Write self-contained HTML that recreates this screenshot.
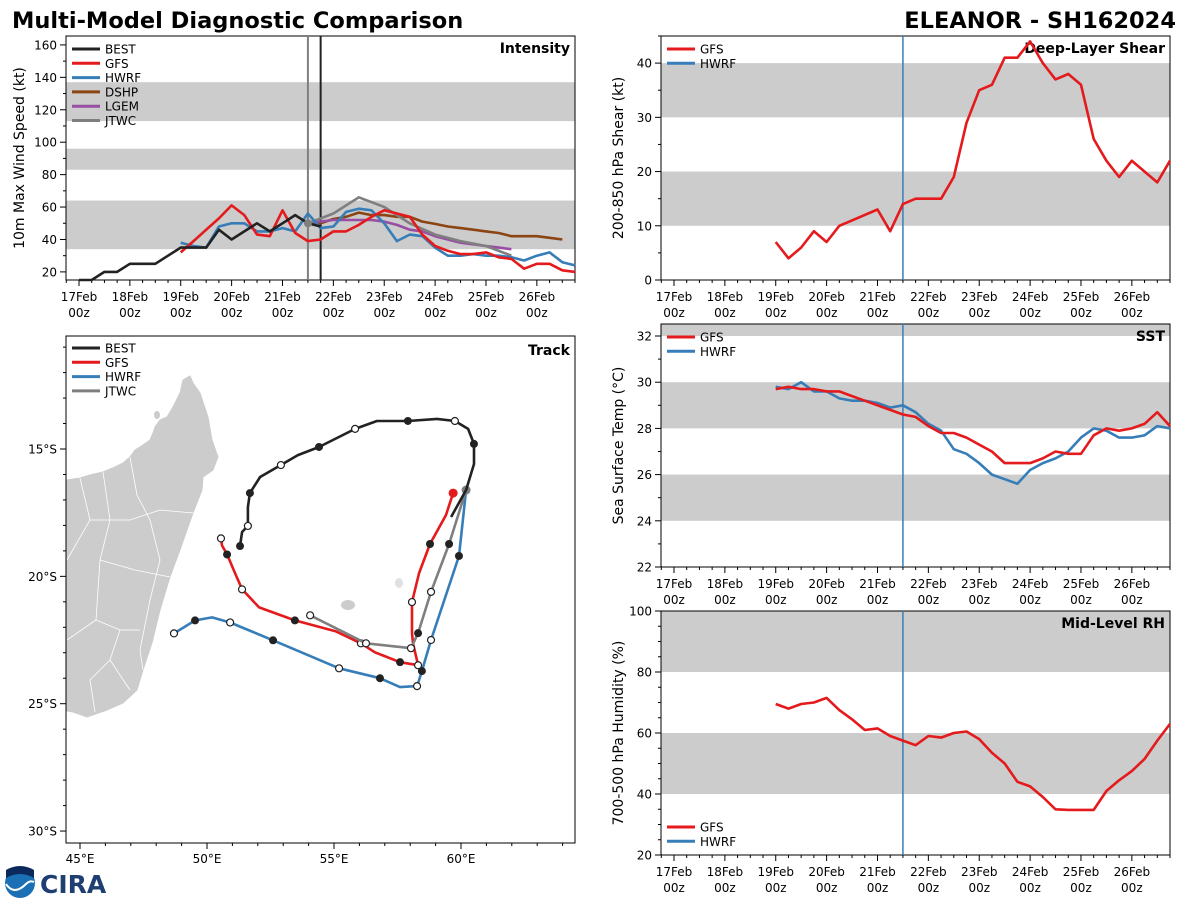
<!DOCTYPE html>
<html><head><meta charset="utf-8">
<style>
html,body{margin:0;padding:0;background:#fff;}
svg{display:block;font-family:"DejaVu Sans","Liberation Sans",sans-serif;}
</style></head>
<body>
<svg id="chart" width="1200" height="900" viewBox="0 0 1200 900" xmlns="http://www.w3.org/2000/svg"></svg>
<script>
// ---------- DATA ----------
const dayLabels = ["17Feb","18Feb","19Feb","20Feb","21Feb","22Feb","23Feb","24Feb","25Feb","26Feb"];
// intensity (kt), 6-hourly, start hour given
const bestStart = 0;
const bestVmax = [15,15,20,20,25,25,25,30,35,35,35,46,40,45,50,45,50,55,50,48];
const gfsStart = 48;
const gfsVmax = [32,39,46,53,61,55,43,42,58,44,39,40,45,45,49,54,58,56,54,43,36,33,31,31,32,29,28,22,25,25,21,20];
const hwrfVmax = [38,36,35,48,50,50,45,45,47,45,56,47,48,57,59,58,50,39,43,42,35,30,30,31,30,30,29,27,30,32,26,24];
const dshpStart = 108;
const dshpVmax = [50,50,52.6,54,56.6,55,55,54,54,51,49.6,48,47,46,45,44,42,42,42,41,40];
const lgemVmax = [50,51,52,52,52,52,51,49,46,45,42,40,38,37,36,35,34];
const jtwcStart = 108;
const jtwcHours = [108,120,132,144,156,168,180,192,204];
const jtwcVmax = [50,56,66,60,50,43,39,36,30];
const gfsShear = [7,4,6,9,7,10,11,12,13,9,14,15,15,15,19,29,35,36,41,41,44,40,37,38,36,26,22,19,22,20,18,22];
const gfsSst = [29.7,29.8,29.7,29.7,29.6,29.6,29.4,29.2,29.0,28.8,28.6,28.5,28.1,27.8,27.8,27.6,27.3,27.0,26.5,26.5,26.5,26.7,27.0,26.9,26.9,27.7,28.0,27.9,28.0,28.2,28.7,28.1];
const hwrfSst = [29.8,29.7,30.0,29.6,29.6,29.3,29.2,29.2,29.1,28.9,29.0,28.7,28.2,27.9,27.1,26.9,26.5,26.0,25.8,25.6,26.2,26.5,26.7,27.0,27.6,28.0,27.9,27.6,27.6,27.7,28.1,28.0];
const gfsRh = [69.5,68,69.5,70,71.5,67.5,64.5,61,61.5,59,57.5,56,59,58.5,60,60.5,58,53.5,50,44,42.5,39,35,34.8,34.8,34.8,41,44.5,47.5,51.5,57.5,63];
// tracks: lon (E), lat (S), marker ('f' filled, 'o' open, '-' none)
const bestLon = [51.30,51.38,51.61,51.61,51.69,52.09,52.91,53.58,54.41,55.83,56.69,57.91,59.06,59.76,60.28,60.51,60.51,60.20,59.61];
const bestLat = [18.81,18.26,18.02,17.28,16.73,16.10,15.63,15.24,14.92,14.21,13.90,13.90,13.82,13.90,14.21,14.80,15.59,16.61,17.67];
const bestMk  = ["f","-","o","-","f","-","o","-","f","o","-","f","-","o","-","f","-","-","-"];
const gfsLon = [59.69,59.41,58.78,58.35,58.07,58.07,58.11,58.31,57.60,56.61,56.06,55.08,53.46,52.05,51.38,51.06,50.79,50.59,50.55];
const gfsLat = [16.73,17.59,18.73,19.87,21.01,22.23,22.63,23.49,23.37,22.98,22.63,22.16,21.73,21.22,20.51,19.77,19.14,18.79,18.51];
const gfsMk  = ["r","-","f","-","o","-","-","o","f","-","o","-","f","-","o","-","f","-","o"];
const hwrfLon = [60.20,59.92,58.82,58.46,58.27,57.60,56.81,55.20,52.60,50.91,50.20,49.53,48.70];
const hwrfLat = [16.61,19.20,22.50,23.72,24.31,24.35,24.00,23.61,22.51,21.81,21.61,21.73,22.24];
const hwrfMk  = ["-","f","o","f","o","-","f","o","f","o","-","f","o"];
const jtwcLon = [60.20,59.53,58.82,58.31,58.03,56.26,54.06];
const jtwcLat = [16.61,18.73,20.61,22.23,22.82,22.63,21.53];
const jtwcMk  = ["g","f","o","f","o","o","o"];

// ---------- HELPERS ----------
const svg = document.getElementById('chart');
const NS = 'http://www.w3.org/2000/svg';
function mk(tag, attrs, name, parent){
  const e = document.createElementNS(NS, tag);
  for (const k in attrs) e.setAttribute(k, attrs[k]);
  
  
  (parent||svg).appendChild(e);
  return e;
}
function txt(x,y,s,size,name,opts){
  opts = opts||{};
  const t = mk('text',{x:x,y:y,'font-size':size,fill:'#000','text-anchor':opts.anchor||'start','font-weight':opts.bold?'bold':'normal'},name);
  if (opts.rot) t.setAttribute('transform','rotate(-90 '+x+' '+y+')');
  t.textContent = s;
  return t;
}
const COL = {best:'#222222',gfs:'#e41a1c',hwrf:'#377eb8',dshp:'#8b4513',lgem:'#984ea3',jtwc:'#7f7f7f'};
const HMIN = -6.13, HMAX = 234;

function panel(p){
  const xs = h => p.x0 + (h-HMIN)/(HMAX-HMIN)*(p.x1-p.x0);
  const ys = v => p.y1 - (v-p.ymin)/(p.ymax-p.ymin)*(p.y1-p.y0);
  p.bands.forEach((b,i)=>{
    const top = Math.max(p.y0, ys(b[1])), bot = Math.min(p.y1, ys(b[0]));
    mk('rect',{x:p.x0,y:top,width:p.x1-p.x0,height:bot-top,fill:'#cccccc'},p.name+'-band-'+i);
  });
  for (let h=-6; h<=HMAX; h+=6){
    if (h<HMIN) continue;
    const major = h%24===0;
    mk('line',{x1:xs(h),x2:xs(h),y1:p.y1,y2:p.y1+(major?6:3),stroke:'#000','stroke-width':1},p.name+'-x-tick');
  }
  dayLabels.forEach((d,i)=>{
    txt(xs(i*24),p.y1+21,d,12,p.name+'-x-label',{anchor:'middle'});
    txt(xs(i*24),p.y1+37,'00z',12,p.name+'-x-label',{anchor:'middle'});
  });
  for (let v=Math.ceil(p.ymin/p.minor)*p.minor; v<=p.ymax+1e-6; v+=p.minor){
    const major = Math.abs(v/p.major - Math.round(v/p.major))<1e-6;
    mk('line',{x1:p.x0,x2:p.x0-(major?6:3),y1:ys(v),y2:ys(v),stroke:'#000','stroke-width':1},p.name+'-y-tick');
    if (major) txt(p.x0-9,ys(v)+4.5,String(v),12,p.name+'-y-label',{anchor:'end'});
  }
  mk('rect',{x:p.x0,y:p.y0,width:p.x1-p.x0,height:p.y1-p.y0,fill:'none',stroke:'#000','stroke-width':1},p.name+'-frame');
  txt(p.x1-5,p.y0+17,p.title,14,p.name+'-title',{anchor:'end',bold:true});
  txt(p.ylabx,(p.y0+p.y1)/2,p.ylabel,14,p.name+'-y-axis-title',{anchor:'middle',rot:true});
  p.xs=xs; p.ys=ys;
  return p;
}
function series(p,start,vals,color,name,hours){
  const pts = vals.map((v,i)=>{const h = hours?hours[i]:start+6*i; return p.xs(h).toFixed(1)+','+p.ys(v).toFixed(1);});
  mk('polyline',{points:pts.join(' '),fill:'none',stroke:color,'stroke-width':2.6,'stroke-linejoin':'round'},name);
}
function legend(x,y,items,prefix){
  items.forEach((it,i)=>{
    const yy = y + i*14.3;
    mk('line',{x1:x,x2:x+28,y1:yy,y2:yy,stroke:it[1],'stroke-width':3},prefix+'-legend-line-'+it[0].toLowerCase());
    txt(x+33,yy+4.5,it[0],12,prefix+'-legend-entry-'+it[0].toLowerCase());
  });
}

// ---------- TITLES ----------
txt(12,28,'Multi-Model Diagnostic Comparison',22.5,'main-title',{bold:true});
txt(1176,28,'ELEANOR - SH162024',22.5,'storm-title',{anchor:'end',bold:true});

// ---------- INTENSITY ----------
const pI = panel({name:'intensity',x0:66,x1:575,y0:36,y1:280,ymin:15,ymax:165.5,major:20,minor:10,bands:[[34,64],[83,96],[113,137]],title:'Intensity',ylabel:'10m Max Wind Speed (kt)',ylabx:24});
mk('line',{x1:pI.xs(108),x2:pI.xs(108),y1:36,y2:280,stroke:'#7f7f7f','stroke-width':2},'jtwc-time-line');
mk('line',{x1:pI.xs(114),x2:pI.xs(114),y1:36,y2:280,stroke:'#222','stroke-width':2},'best-time-line');
series(pI,dshpStart,dshpVmax,COL.dshp,'dshp-intensity-line');
series(pI,dshpStart,lgemVmax,COL.lgem,'lgem-intensity-line');
series(pI,jtwcStart,jtwcVmax,COL.jtwc,'jtwc-intensity-line',jtwcHours);
series(pI,gfsStart,hwrfVmax,COL.hwrf,'hwrf-intensity-line');
series(pI,gfsStart,gfsVmax,COL.gfs,'gfs-intensity-line');
series(pI,bestStart,bestVmax,COL.best,'best-intensity-line');
mk('circle',{cx:pI.xs(108),cy:pI.ys(50),r:4,fill:'#7f7f7f'},'jtwc-initial-dot');
legend(72,49,[['BEST',COL.best],['GFS',COL.gfs],['HWRF',COL.hwrf],['DSHP',COL.dshp],['LGEM',COL.lgem],['JTWC',COL.jtwc]],'intensity');

// ---------- SHEAR ----------
const pS = panel({name:'shear',x0:661,x1:1170,y0:36,y1:280,ymin:0,ymax:45,major:10,minor:5,bands:[[10,20],[30,40]],title:'Deep-Layer Shear',ylabel:'200-850 hPa Shear (kt)',ylabx:623});
mk('line',{x1:pS.xs(108),x2:pS.xs(108),y1:36,y2:280,stroke:COL.hwrf,'stroke-width':1.5},'shear-time-line');
series(pS,gfsStart,gfsShear,COL.gfs,'gfs-shear-line');
legend(667,49,[['GFS',COL.gfs],['HWRF',COL.hwrf]],'shear');

// ---------- SST ----------
const pT = panel({name:'sst',x0:661,x1:1170,y0:324,y1:567,ymin:22,ymax:32.52,major:2,minor:1,bands:[[24,26],[28,30],[32,34]],title:'SST',ylabel:'Sea Surface Temp (°C)',ylabx:623});
mk('line',{x1:pT.xs(108),x2:pT.xs(108),y1:324,y2:567,stroke:COL.hwrf,'stroke-width':1.5},'sst-time-line');
series(pT,gfsStart,hwrfSst,COL.hwrf,'hwrf-sst-line');
series(pT,gfsStart,gfsSst,COL.gfs,'gfs-sst-line');
legend(667,337,[['GFS',COL.gfs],['HWRF',COL.hwrf]],'sst');

// ---------- RH ----------
const pR = panel({name:'rh',x0:661,x1:1170,y0:611,y1:855,ymin:20,ymax:100,major:20,minor:5,bands:[[40,60],[80,100]],title:'Mid-Level RH',ylabel:'700-500 hPa Humidity (%)',ylabx:623});
mk('line',{x1:pR.xs(108),x2:pR.xs(108),y1:611,y2:855,stroke:COL.hwrf,'stroke-width':1.5},'rh-time-line');
series(pR,gfsStart,gfsRh,COL.gfs,'gfs-rh-line');
legend(667,827,[['GFS',COL.gfs],['HWRF',COL.hwrf]],'rh');

// ---------- TRACK ----------
const T = {x0:66,x1:575,y0:336,y1:843};
const lx = lon => 80 + (lon-45)*25.4;
const ly = lat => 449 + (lat-15)*25.47;
const clip = mk('clipPath',{id:'trackclip'},'track-clip');
mk('rect',{x:T.x0,y:T.y0,width:T.x1-T.x0,height:T.y1-T.y0},'track-clip-rect',clip);
const g = mk('g',{'clip-path':'url(#trackclip)'},'track-map');
mk('polygon',{points:'60,478 67,480 80,478 90,475 103,472 115,467 123,463 130,457 135,450 143,445 150,440 153,433 155,427 160,420 167,417 173,407 180,393 183,380 190,376 193,383 200,393 208,417 212,440 218,457 213,470 203,477 202,490 193,513 187,530 180,550 170,577 160,610 152,643 143,670 137,690 123,703 107,710 87,717 73,712 60,710',fill:'#cccccc',stroke:'#cccccc'},'madagascar',g);
['M80,478 L90,520 L67,560','M103,472 L110,520 L100,560 L96,620 L67,640','M130,457 L137,495 L150,520 L160,560 L150,600 L140,650 L143,670','M96,620 L120,630 L140,630','M100,560 L135,570 L170,577','M90,520 L130,520 L160,510 L193,513','M110,660 L90,680 L95,712','M120,630 L110,660 L130,690'].forEach((d,i)=>{
  mk('path',{d:d,fill:'none',stroke:'#fff','stroke-width':0.8},'region-border-'+i,g);
});
mk('ellipse',{cx:348,cy:605,rx:7,ry:5,fill:'#cccccc'},'reunion-island',g);
mk('ellipse',{cx:399,cy:583,rx:4,ry:5,fill:'#e0e0e0'},'mauritius-island',g);
mk('ellipse',{cx:157,cy:415,rx:3,ry:4,fill:'#cccccc'},'nosy-be-island',g);
function track(lons,lats,mks,color,name){
  const pts = lons.map((l,i)=>lx(l).toFixed(1)+','+ly(lats[i]).toFixed(1)).join(' ');
  mk('polyline',{points:pts,fill:'none',stroke:color,'stroke-width':2.6,'stroke-linejoin':'round'},name+'-track-line',g);
  mks.forEach((m,i)=>{
    if (m==='-') return;
    const cx = lx(lons[i]), cy = ly(lats[i]);
    if (m==='f') mk('circle',{cx:cx,cy:cy,r:4,fill:'#222'},name+'-track-point',g);
    else if (m==='o') mk('circle',{cx:cx,cy:cy,r:3.5,fill:'#fff',stroke:'#222','stroke-width':1.2},name+'-track-point',g);
    else if (m==='r') mk('circle',{cx:cx,cy:cy,r:4.5,fill:COL.gfs},name+'-track-start',g);
    else if (m==='g') mk('circle',{cx:cx,cy:cy,r:4.5,fill:COL.jtwc},name+'-track-start',g);
  });
}
track(hwrfLon,hwrfLat,hwrfMk,COL.hwrf,'hwrf');
track(gfsLon,gfsLat,gfsMk,COL.gfs,'gfs');
track(jtwcLon,jtwcLat,jtwcMk,COL.jtwc,'jtwc');
track(bestLon,bestLat,bestMk,COL.best,'best');
for (let lon=45; lon<=64; lon++){
  const major = lon%5===0;
  mk('line',{x1:lx(lon),x2:lx(lon),y1:T.y1,y2:T.y1+(major?6:3),stroke:'#000'},'track-x-tick');
  if (major) txt(lx(lon),T.y1+20,lon+'°E',12,'track-x-label',{anchor:'middle'});
}
for (let lat=11; lat<=30; lat++){
  const major = lat%5===0;
  mk('line',{x1:T.x0,x2:T.x0-(major?6:3),y1:ly(lat),y2:ly(lat),stroke:'#000'},'track-y-tick');
  if (major) txt(T.x0-9,ly(lat)+4.5,lat+'°S',12,'track-y-label',{anchor:'end'});
}
mk('rect',{x:T.x0,y:T.y0,width:T.x1-T.x0,height:T.y1-T.y0,fill:'none',stroke:'#000'},'track-frame');
txt(T.x1-5,T.y0+19,'Track',14,'track-title',{anchor:'end',bold:true});
mk('rect',{x:70,y:340,width:70,height:58,fill:'#fff',opacity:0.8},'track-legend-bg');
legend(72,348,[['BEST',COL.best],['GFS',COL.gfs],['HWRF',COL.hwrf],['JTWC',COL.jtwc]],'track');

// ---------- LOGOS ----------
mk('circle',{cx:20,cy:883,r:15,fill:'#1a6fb5'},'noaa-logo');
mk('path',{d:'M6,878 Q20,870 34,878 L34,870 Q20,862 6,870 Z',fill:'#0b2a5b'},'noaa-logo-top');
mk('path',{d:'M6,884 Q14,896 26,884 Q30,880 34,882',fill:'none',stroke:'#fff','stroke-width':2},'noaa-logo-wave');
const cira = txt(40,893,'CIRA',25,'cira-logo',{bold:true});
cira.setAttribute('fill','#1f3f73');
</script>
</body></html>
